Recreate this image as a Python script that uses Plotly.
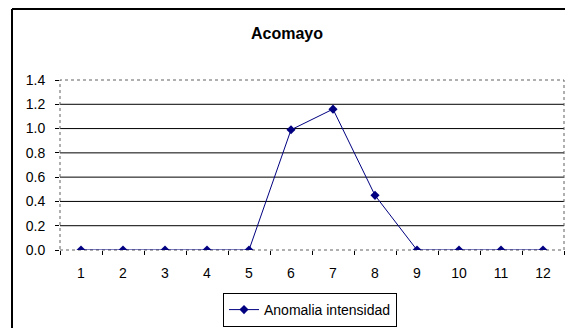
import plotly.graph_objects as go

# datos
meses = ["1", "2", "3", "4", "5", "6", "7", "8", "9", "10", "11", "12"]
anomalia = [0, 0, 0, 0, 0, 0.99, 1.16, 0.45, 0, 0, 0, 0]
y_ticks = [0, 0.2, 0.4, 0.6, 0.8, 1.0, 1.2, 1.4]

# la pagina tiene 8px de margen en el body
OFF = 8
W, H = 573 - OFF, 328 - OFF
L, R, T, B = 60 - OFF, 9, 80 - OFF, 78
pw, ph = W - L - R, H - T - B


def px_x(v):
    # v en pixeles de pantalla
    return (v - OFF - L) / pw


def px_y(v):
    return (H - B - (v - OFF)) / ph


fig = go.Figure()
fig.add_trace(go.Scatter(
    x=meses, y=anomalia, mode="lines+markers", name="Anomalia intensidad",
    line=dict(color="#000080", width=1),
    marker=dict(symbol="diamond", size=7, color="#000080"),
))

shapes = []
# lineas de la grilla
for v in y_ticks[1:-1]:
    shapes.append(dict(type="line", xref="paper", yref="y", x0=0, x1=1, y0=v, y1=v,
                       line=dict(color="black", width=1), layer="below"))
# borde punteado del area de trazado
shapes.append(dict(type="rect", xref="paper", yref="paper", x0=0, x1=1, y0=0, y1=1,
                   line=dict(color="#606060", width=1, dash="dot"), layer="below"))
# borde exterior del grafico
shapes.append(dict(type="line", xref="paper", yref="paper", x0=px_x(12), x1=1.1,
                   y0=px_y(9), y1=px_y(9), line=dict(color="black", width=2)))
shapes.append(dict(type="line", xref="paper", yref="paper", x0=px_x(12), x1=px_x(12),
                   y0=px_y(9), y1=-0.6, line=dict(color="black", width=2)))

fig.update_layout(
    width=W, height=H,
    margin=dict(l=L, r=R, t=T, b=B),
    paper_bgcolor="white", plot_bgcolor="white",
    font=dict(family="Liberation Sans, Arial", size=14, color="black"),
    title=dict(text="<b>Acomayo</b>", x=(287 - OFF) / W, xref="container", xanchor="center",
               y=1 - (33 - OFF) / H, yanchor="middle", font=dict(size=16)),
    showlegend=True,
    legend=dict(orientation="h", xref="container", yref="container",
                x=(310 - OFF) / W, xanchor="center",
                y=1 - (293 - OFF) / H, yanchor="top",
                bordercolor="black", borderwidth=1, bgcolor="white",
                font=dict(size=14)),
    xaxis=dict(type="category", tickson="boundaries", ticks="outside", ticklen=4,
               tickcolor="black", showgrid=False, showline=False, zeroline=False,
               range=[-0.5, 11.5], ticklabelstandoff=13),
    yaxis=dict(range=[0, 1.4], tickvals=y_ticks, tickformat=".1f", ticks="outside",
               ticklen=4, tickcolor="black", showgrid=False, showline=False,
               zeroline=False, ticklabelstandoff=7),
    shapes=shapes,
)

fig.write_html("out.html")
